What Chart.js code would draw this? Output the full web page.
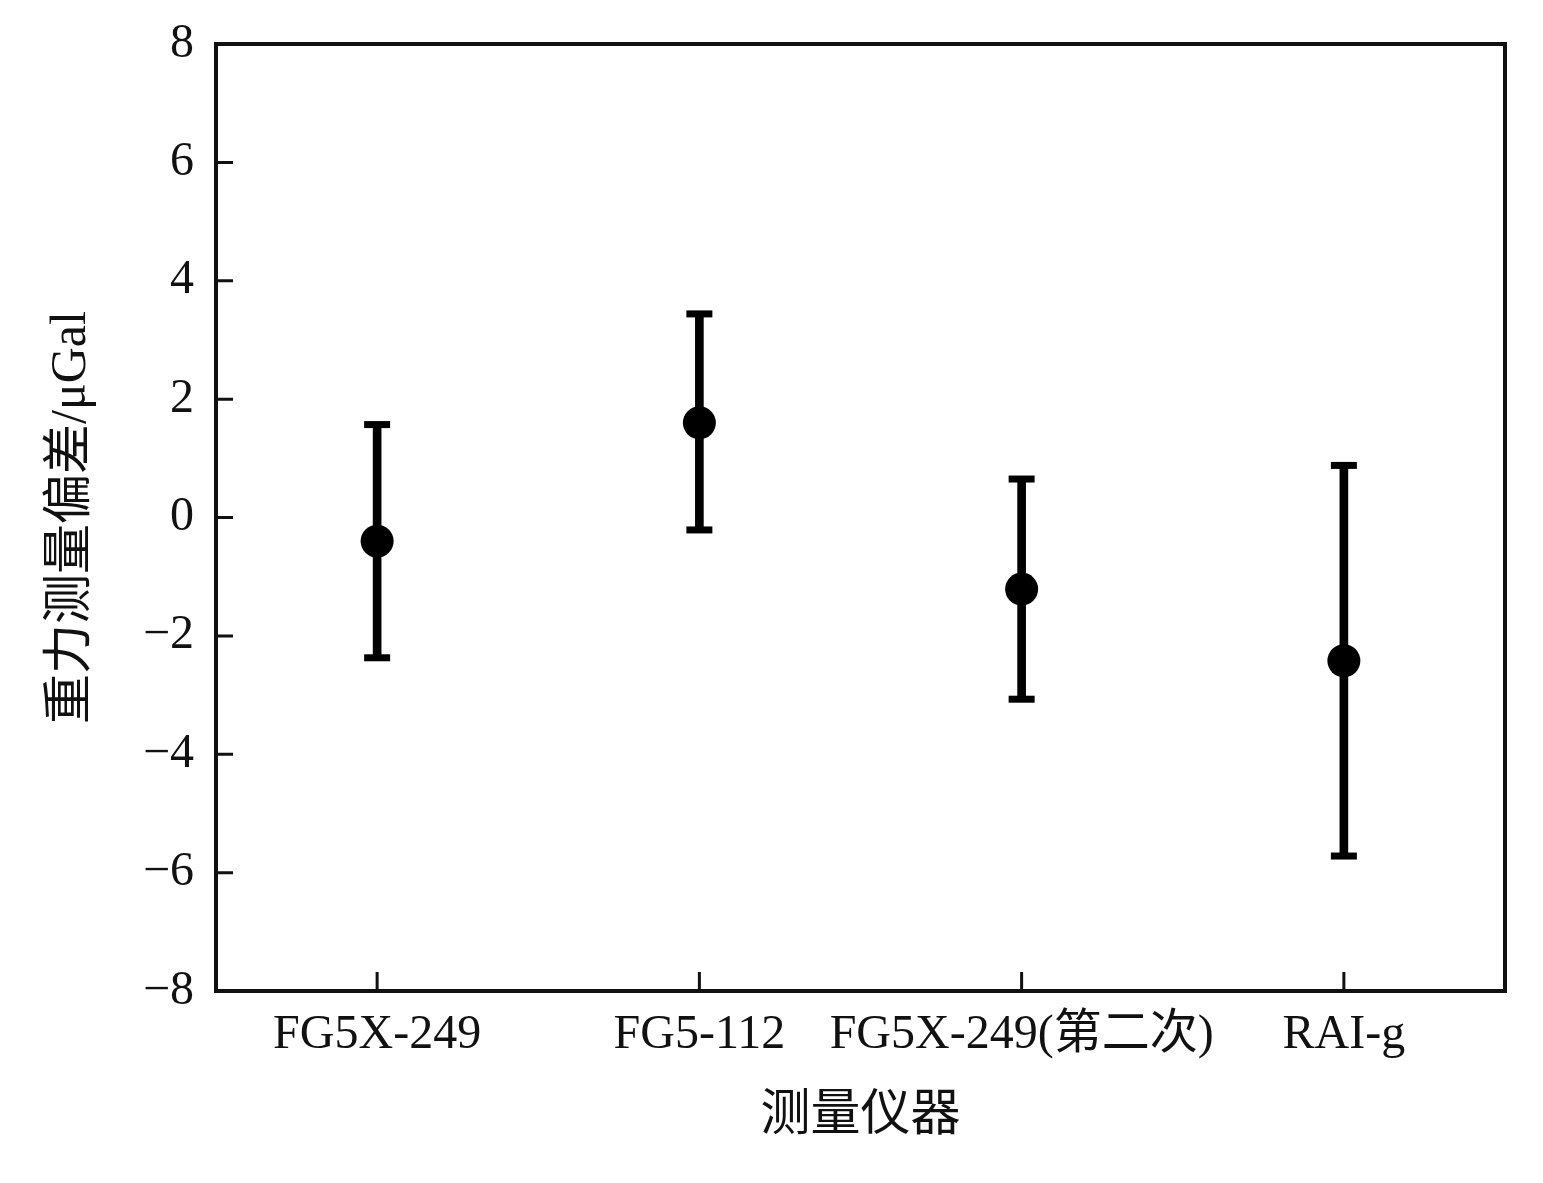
<!DOCTYPE html>
<html>
<head>
<meta charset="utf-8">
<script src="https://cdn.jsdelivr.net/npm/chart.js@4/dist/chart.umd.min.js"></script>
<style>
  html, body { margin: 0; padding: 0; background: #fff; }
  #wrap { width: 1543px; height: 1183px; }
</style>
</head>
<body>
<div id="wrap"><canvas id="chart"></canvas></div>
<script>
const instruments = ['FG5X-249', 'FG5-112', 'FG5X-249(第二次)', 'RAI-g']
const deviation = [-0.4, 1.6, -1.21, -2.42]
const upper = [1.57, 3.44, 0.65, 0.88]
const lower = [-2.37, -0.21, -3.07, -5.72]
const yTicks = [-8, -6, -4, -2, 0, 2, 4, 6, 8]

const fontFamily = '"Liberation Serif", "Noto Sans CJK SC", serif'

// box around plot + inward tick marks
const frame = {
  id: 'frame',
  afterDraw(chart) {
    const { ctx, chartArea: a, scales } = chart
    ctx.save()
    ctx.strokeStyle = '#111'
    ctx.lineWidth = 3
    ctx.beginPath()
    yTicks.forEach(v => {
      const y = scales.y.getPixelForValue(v)
      ctx.moveTo(a.left, y)
      ctx.lineTo(a.left + 17, y)
    })
    instruments.forEach((c, i) => {
      const x = scales.x.getPixelForValue(i)
      ctx.moveTo(x, a.bottom)
      ctx.lineTo(x, a.bottom - 19)
    })
    ctx.stroke()
    ctx.lineWidth = 4
    ctx.strokeRect(a.left, a.top, a.right - a.left, a.bottom - a.top)
    ctx.restore()
  }
}

new Chart(document.getElementById('chart'), {
  data: {
    labels: instruments,
    datasets: [
      {
        type: 'bar',
        data: instruments.map((c, i) => [lower[i], upper[i]]),
        backgroundColor: '#000',
        barThickness: 8,
        order: 3
      },
      {
        type: 'line',
        data: upper,
        showLine: false,
        pointStyle: 'line',
        pointRadius: 13,
        pointBorderWidth: 7,
        pointBorderColor: '#000',
        order: 2
      },
      {
        type: 'line',
        data: lower,
        showLine: false,
        pointStyle: 'line',
        pointRadius: 13,
        pointBorderWidth: 7,
        pointBorderColor: '#000',
        order: 2
      },
      {
        type: 'line',
        data: deviation,
        showLine: false,
        pointRadius: 16.5,
        pointBackgroundColor: '#000',
        pointBorderWidth: 0,
        order: 1
      }
    ]
  },
  options: {
    responsive: true,
    maintainAspectRatio: false,
    animation: false,
    layout: { padding: { left: 38, right: 38, top: 44, bottom: 0 } },
    plugins: { legend: { display: false }, tooltip: { enabled: false } },
    scales: {
      x: {
        offset: true,
        grid: { display: false, drawTicks: false },
        border: { display: false },
        ticks: {
          color: '#111',
          padding: 16,
          autoSkip: false,
          maxRotation: 0,
          minRotation: 0,
          font: { family: fontFamily, size: 48 }
        },
        title: {
          display: true,
          text: '测量仪器',
          color: '#111',
          padding: { top: 10, bottom: 36 },
          font: { family: fontFamily, size: 50 }
        },
        afterFit(scale) {
          scale.height = 192
          scale.paddingLeft = 0
          scale.paddingRight = 0
        }
      },
      y: {
        min: -8,
        max: 8,
        afterBuildTicks(scale) { scale.ticks = yTicks.map(v => ({ value: v })) },
        grid: { display: false, drawTicks: false },
        border: { display: false },
        ticks: {
          color: '#111',
          padding: 22,
          font: { family: fontFamily, size: 48 },
          callback: v => String(v).replace('-', '−')
        },
        title: {
          display: true,
          text: '重力测量偏差/μGal',
          color: '#111',
          padding: { bottom: 20 },
          font: { family: fontFamily, size: 50 }
        },
        afterFit(scale) {
          scale.width = 178
          scale.paddingTop = 0
          scale.paddingBottom = 0
        }
      }
    }
  },
  plugins: [frame]
})
</script>
</body>
</html>
